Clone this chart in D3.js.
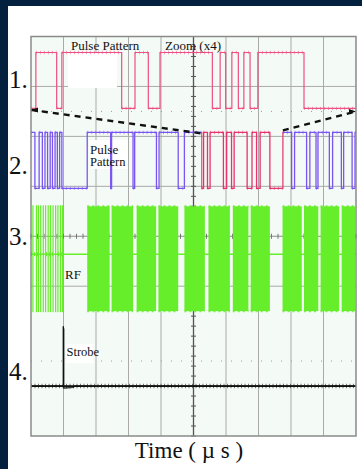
<!DOCTYPE html>
<html><head><meta charset="utf-8">
<script src="https://cdn.jsdelivr.net/npm/d3@7"></script>
<style>
html,body{margin:0;padding:0;background:#fff;}
svg{display:block;}
text{font-family:"Liberation Serif","Times New Roman",serif;fill:#111;}
</style></head><body>
<svg id="scope" width="362" height="469"></svg>
<script>
// Time axis in screen divisions (0..10), amplitude in vertical divisions (-4..4).

// Channel 1: zoomed pulse pattern, starts low, toggles at each edge
const ch1Edges = [0.15, 0.79, 0.95, 2.79, 3.2, 3.61, 3.97, 5.58, 5.82, 5.99, 6.18, 6.38, 6.55, 6.74, 6.98, 8.4];
const ch1Levels = [2.56, 3.68];          // [low, high]

// Channel 2: full pulse pattern, starts high
const ch2Edges = [0.12, 0.25, 0.35, 0.43, 0.51, 0.59, 0.66, 0.74, 0.81, 0.88, 0.95, 1.73,
                  2.45, 2.48, 3.14, 3.19, 3.86, 3.94, 4.53, 4.72,
                  5.25, 5.31, 5.43, 5.51, 5.92, 6.02, 6.17, 6.25, 6.65, 6.80, 6.94, 7.05, 7.35, 7.75,
                  8.02, 8.11, 8.48, 8.58, 8.77, 8.83, 9.18, 9.28, 9.55, 9.62, 9.88, 9.97];
const ch2Levels = [0.96, 2.08];          // [low, high]
const zoomWindow = [5.25, 7.75];         // span of channel 2 shown magnified on channel 1
const zoomLinks = [[0, 2.53, 5.25, 2.06], [7.75, 2.12, 10, 2.5]]; // [t0, y0, t1, y1]

// Channel 3: RF bursts
const rfBursts = [[1.73, 2.42], [2.48, 3.14], [3.25, 3.85], [3.92, 4.53], [4.72, 5.35], [5.46, 6.12],
                  [6.21, 6.69], [6.76, 7.35], [7.74, 8.33], [8.40, 8.84], [8.91, 9.48], [9.56, 9.97]];
const rfSpikes = [0.04, 0.15, 0.21, 0.28, 0.36, 0.43, 0.51, 0.58, 0.66, 0.74, 0.81, 0.89, 0.95];
const rfEnvelope = [-1.5, -0.36, 0.6];   // [bottom, idle, top]

// Channel 4: strobe
const strobeTrace = [[0, -3], [0.99, -3], [0.99, -1.8], [1.01, -1.86], [1.01, -3.04], [1.3, -3.03], [1.35, -3], [10, -3]];

// Labels
const channelLabels = [{t: "1.", y: 88}, {t: "2.", y: 174}, {t: "3.", y: 245}, {t: "4.", y: 380}];

const W = 362, H = 469;
const plot = {left: 31, right: 356, top: 36.5, bottom: 436};
const x = d3.scaleLinear().domain([0, 10]).range([plot.left, plot.right]);
const y = d3.scaleLinear().domain([-4, 4]).range([plot.bottom, plot.top]);

const svg = d3.select("#scope");

// page frame
svg.append("rect").attr("width", W).attr("height", H).attr("fill", "#03203f");
svg.append("rect").attr("x", 8).attr("y", 6).attr("width", W - 8).attr("height", H - 6).attr("fill", "#ffffff");

// screen background
svg.append("rect").attr("x", plot.left).attr("y", plot.top)
  .attr("width", plot.right - plot.left).attr("height", plot.bottom - plot.top)
  .attr("fill", "#f4faf6");

const grid = svg.append("g");
d3.range(1, 10).filter(d => d !== 5).forEach(d => {
  grid.append("line").attr("x1", x(d)).attr("x2", x(d)).attr("y1", plot.top).attr("y2", plot.bottom)
    .attr("stroke", "#a9aaa9").attr("stroke-width", 1);
});
[3, 2, 1, -1, -3].forEach(d => {
  grid.append("line").attr("x1", plot.left).attr("x2", plot.right).attr("y1", y(d)).attr("y2", y(d))
    .attr("stroke", "#a9aaa9").attr("stroke-width", 1);
});
[2.5, -2.5].forEach(d => {
  grid.append("line").attr("x1", plot.left).attr("x2", plot.right).attr("y1", y(d)).attr("y2", y(d))
    .attr("stroke", "#9a9a9a").attr("stroke-width", 1).attr("stroke-dasharray", "1 9");
});

// label backing patches
svg.append("rect").attr("x", 68).attr("y", 53).attr("width", 49).attr("height", 35).attr("fill", "#ffffff");
svg.append("rect").attr("x", 89).attr("y", 140).attr("width", 39).attr("height", 29).attr("fill", "#ffffff");
svg.append("rect").attr("x", 66).attr("y", 344).attr("width", 27).attr("height", 19).attr("fill", "#ffffff");

// center axes with minor ticks
const axes = svg.append("g");
axes.append("line").attr("x1", x(5)).attr("x2", x(5)).attr("y1", plot.top).attr("y2", plot.bottom)
  .attr("stroke", "#555").attr("stroke-width", 1.3);
axes.append("line").attr("x1", plot.left).attr("x2", plot.right).attr("y1", y(0)).attr("y2", y(0))
  .attr("stroke", "#8c8c8c").attr("stroke-width", 1.2);
d3.range(-4, 4.01, 0.2).forEach(v => {
  axes.append("line").attr("x1", x(5) - 2.5).attr("x2", x(5) + 2.5).attr("y1", y(v)).attr("y2", y(v))
    .attr("stroke", "#555").attr("stroke-width", 1);
});
d3.range(0, 10.01, 0.2).forEach(v => {
  axes.append("line").attr("x1", x(v)).attr("x2", x(v)).attr("y1", y(0) - 2.5).attr("y2", y(0) + 2.5)
    .attr("stroke", "#777").attr("stroke-width", 1);
});

// clip regions for the channel-2 highlight
const defs = svg.append("defs");
const cpIn = defs.append("clipPath").attr("id", "zoomIn");
cpIn.append("rect").attr("x", x(zoomWindow[0])).attr("y", 0).attr("width", x(zoomWindow[1]) - x(zoomWindow[0])).attr("height", H);
const cpOut = defs.append("clipPath").attr("id", "zoomOut");
cpOut.append("rect").attr("x", 0).attr("y", 0).attr("width", x(zoomWindow[0])).attr("height", H);
cpOut.append("rect").attr("x", x(zoomWindow[1])).attr("y", 0).attr("width", W - x(zoomWindow[1])).attr("height", H);

const line = d3.line().x(d => x(d[0])).y(d => y(d[1]));

function stepPoints(edges, levels, startHigh) {
  let state = startHigh ? 1 : 0;
  const pts = [[0, levels[state]]];
  edges.forEach(e => {
    pts.push([e, levels[state]]);
    state = 1 - state;
    pts.push([e, levels[state]]);
  });
  pts.push([10, levels[state]]);
  return pts;
}

// horizontal runs of a step trace, used for the jitter texture
function flatRuns(pts) {
  const runs = [];
  for (let i = 1; i < pts.length; i++) {
    if (pts[i][1] === pts[i - 1][1] && pts[i][0] > pts[i - 1][0]) runs.push([pts[i - 1], pts[i]]);
  }
  return runs;
}

function trace(g, pts, color, width, clip) {
  const p = g.append("g");
  if (clip) p.attr("clip-path", `url(#${clip})`);
  p.append("path").attr("d", line(pts)).attr("fill", "none").attr("stroke", color)
    .attr("stroke-width", width).attr("stroke-linejoin", "miter");
  p.selectAll("path.fuzz").data(flatRuns(pts)).join("path").attr("class", "fuzz")
    .attr("d", d => line(d)).attr("fill", "none").attr("stroke", color)
    .attr("stroke-width", width + 2.2).attr("stroke-dasharray", "1 3").attr("opacity", 0.5);
}

const traces = svg.append("g");

// channel 3: RF
const rf = traces.append("g");
rf.append("line").attr("x1", x(0)).attr("x2", x(10)).attr("y1", y(rfEnvelope[1])).attr("y2", y(rfEnvelope[1]))
  .attr("stroke", "#66ee2a").attr("stroke-width", 1.5);
rf.append("line").attr("x1", x(0)).attr("x2", x(0.97)).attr("y1", y(rfEnvelope[1])).attr("y2", y(rfEnvelope[1]))
  .attr("stroke", "#66ee2a").attr("stroke-width", 4).attr("stroke-dasharray", "1 2");
rf.selectAll("rect.burst").data(rfBursts).join("rect").attr("class", "burst")
  .attr("x", d => x(d[0])).attr("width", d => x(d[1]) - x(d[0]))
  .attr("y", y(rfEnvelope[2])).attr("height", y(rfEnvelope[0]) - y(rfEnvelope[2]))
  .attr("fill", "#66ee2a");
rfBursts.forEach(d => {
  [rfEnvelope[2], rfEnvelope[0]].forEach(v => {
    rf.append("line").attr("x1", x(d[0])).attr("x2", x(d[1])).attr("y1", y(v)).attr("y2", y(v))
      .attr("stroke", "#66ee2a").attr("stroke-width", 2).attr("stroke-dasharray", "2 3").attr("opacity", 0.8);
  });
});
rf.selectAll("rect.spike").data(rfSpikes).join("rect").attr("class", "spike")
  .attr("x", d => x(d)).attr("width", 1.2)
  .attr("y", y(rfEnvelope[2]) - 1).attr("height", y(rfEnvelope[0]) - y(rfEnvelope[2]) + 2)
  .attr("fill", "#66ee2a");

// channel 2
const ch2 = stepPoints(ch2Edges, ch2Levels, true);
trace(traces, ch2, "#7a55f2", 1.3, "zoomOut");
trace(traces, ch2, "#e8336b", 1.3, "zoomIn");

// channel 1
trace(traces, stepPoints(ch1Edges, ch1Levels, false), "#ee4f84", 1.2, null);

// channel 4
const ch4 = traces.append("g");
ch4.append("path").attr("d", line(strobeTrace)).attr("fill", "none").attr("stroke", "#111").attr("stroke-width", 1.1);
ch4.append("line").attr("x1", x(0)).attr("x2", x(10)).attr("y1", y(-3)).attr("y2", y(-3))
  .attr("stroke", "#111").attr("stroke-width", 1.8);
ch4.append("line").attr("x1", x(0)).attr("x2", x(10)).attr("y1", y(-3)).attr("y2", y(-3))
  .attr("stroke", "#111").attr("stroke-width", 4.5).attr("stroke-dasharray", "1 2.5").attr("opacity", 0.55);

// zoom connector lines
zoomLinks.forEach(l => {
  svg.append("line").attr("x1", x(l[0])).attr("y1", y(l[1])).attr("x2", x(l[2])).attr("y2", y(l[3]))
    .attr("stroke", "#111").attr("stroke-width", 2.4).attr("stroke-dasharray", "6 5");
});
// arrow tips at the outer ends
[[zoomLinks[0][0], zoomLinks[0][1], 1], [zoomLinks[1][2], zoomLinks[1][3], -1]].forEach(a => {
  const px = x(a[0]), py = y(a[1]);
  svg.append("path").attr("d", `M${px},${py} l${7 * a[2]},-2.5 l0,5 Z`).attr("fill", "#111");
});

// screen border
svg.append("rect").attr("x", plot.left).attr("y", plot.top)
  .attr("width", plot.right - plot.left).attr("height", plot.bottom - plot.top)
  .attr("fill", "none").attr("stroke", "#8a8a8a").attr("stroke-width", 1.5);

// annotations
svg.append("text").attr("x", 71).attr("y", 49.5).attr("font-size", 13).text("Pulse Pattern");
svg.append("text").attr("x", 165).attr("y", 49.5).attr("font-size", 13).text("Zoom (x4)");
svg.append("text").attr("x", 90).attr("y", 153.5).attr("font-size", 13).text("Pulse");
svg.append("text").attr("x", 90).attr("y", 166).attr("font-size", 12.5).text("Pattern");
svg.append("text").attr("x", 65).attr("y", 279).attr("font-size", 13).text("RF");
svg.append("text").attr("x", 66.5).attr("y", 356).attr("font-size", 12.5).text("Strobe");

svg.selectAll("text.ch").data(channelLabels).join("text").attr("class", "ch")
  .attr("x", 9).attr("y", d => d.y).attr("font-size", 25).text(d => d.t);

svg.append("text").attr("x", 189).attr("y", 458).attr("text-anchor", "middle")
  .attr("font-size", 23).text("Time ( µ s )");
</script>
</body></html>
